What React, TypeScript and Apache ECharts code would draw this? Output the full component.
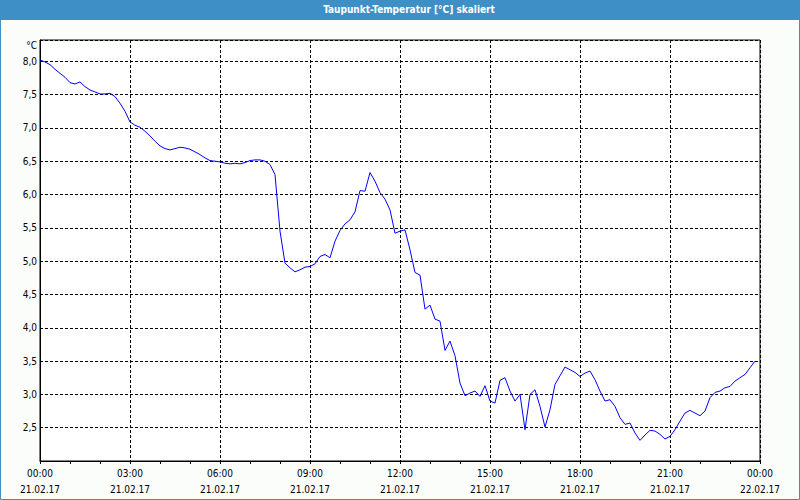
import React, { useEffect, useRef } from "react";
import * as echarts from "echarts";

const titleText = "Taupunkt-Temperatur [°C] skaliert";
const unitLabel = "°C";
const startDate = "21.02.17";
const endDate = "22.02.17";

// minutes since 00:00 on 21.02.17
const minutes = [
  0, 10, 20, 30, 50, 60, 70, 80, 90, 100, 110, 120, 130, 140, 150, 160, 170, 180, 190, 200,
  210, 220, 230, 240, 250, 260, 270, 280, 290, 300, 310, 320, 330, 340, 350, 360, 370, 380, 390, 400,
  410, 420, 430, 440, 450, 460, 470, 480, 490, 500, 510, 520, 530, 540, 550, 560, 570, 580, 590, 600,
  610, 620, 630, 640, 650, 660, 670, 680, 690, 700, 710, 720, 730, 740, 750, 760, 770, 780, 790, 800,
  810, 820, 830, 840, 850, 860, 870, 880, 890, 900, 910, 920, 930, 940, 950, 960, 970, 980, 990, 1000,
  1010, 1020, 1030, 1040, 1050, 1060, 1070, 1080, 1090, 1100, 1110, 1120, 1130, 1140, 1150, 1160, 1170, 1180, 1190, 1200,
  1210, 1220, 1230, 1240, 1250, 1260, 1270, 1280, 1290, 1300, 1310, 1320, 1330, 1340, 1350, 1360, 1370, 1380, 1390, 1400,
  1410, 1420, 1430,
];

const dewPoint = [
  8.02, 7.99, 7.95, 7.88, 7.76, 7.68, 7.66, 7.69, 7.62, 7.57, 7.54, 7.51, 7.51, 7.52, 7.47, 7.37, 7.25, 7.09, 7.04, 7.01,
  6.95, 6.88, 6.8, 6.73, 6.69, 6.67, 6.69, 6.71, 6.7, 6.68, 6.64, 6.6, 6.55, 6.51, 6.5, 6.49, 6.47, 6.46, 6.47, 6.46,
  6.48, 6.51, 6.52, 6.52, 6.5, 6.45, 6.3, 5.45, 4.97, 4.9, 4.84, 4.87, 4.91, 4.92, 4.96, 5.07, 5.1, 5.05, 5.3, 5.46,
  5.56, 5.62, 5.74, 6.06, 6.05, 6.33, 6.2, 6.03, 5.93, 5.77, 5.42, 5.45, 5.47, 5.17, 4.83, 4.79, 4.28, 4.34, 4.13, 4.1,
  3.66, 3.8, 3.58, 3.17, 2.98, 3.02, 3.05, 2.97, 3.13, 2.9, 2.87, 3.21, 3.25, 3.05, 2.9, 3.0, 2.47, 3.0, 3.07, 2.82,
  2.51, 2.77, 3.15, 3.28, 3.41, 3.37, 3.33, 3.27, 3.32, 3.35, 3.22, 3.05, 2.9, 2.92, 2.82, 2.65, 2.55, 2.57, 2.42, 2.31,
  2.39, 2.46, 2.45, 2.4, 2.33, 2.37, 2.47, 2.6, 2.72, 2.76, 2.72, 2.68, 2.75, 2.95, 3.03, 3.05, 3.1, 3.12, 3.2, 3.25,
  3.3, 3.4, 3.5,
];

const yMin = 2.0;
const yMax = 8.32;
const yStep = 0.5;
const xMaxHours = 24;
const xStepHours = 3;

const FONT = "'DejaVu Sans Condensed', 'Liberation Sans', sans-serif";

export default function App() {
  const ref = useRef<HTMLDivElement>(null);

  useEffect(() => {
    document.body.style.margin = "0";
    if (!ref.current) return;
    const chart = echarts.init(ref.current, undefined, { renderer: "svg" });
    const data = minutes.map((m, i) => [m / 60, dewPoint[i]]);
    const pad = (n: number) => (n < 10 ? "0" + n : "" + n);

    chart.setOption({
      animation: false,
      backgroundColor: "#fbfdfb",
      grid: {
        left: 40,
        right: 40,
        top: 40,
        bottom: 39,
        show: true,
        backgroundColor: "#ffffff",
        borderColor: "#000000",
        borderWidth: 1,
      },
      graphic: [
        {
          type: "rect",
          shape: { x: 0, y: 0, width: 800, height: 20 },
          style: { fill: "#3d8fc6" },
          silent: true,
        },
        {
          type: "rect",
          shape: { x: 0.5, y: 0.5, width: 799, height: 499 },
          style: { fill: "none", stroke: "#3d8fc6", lineWidth: 1 },
          silent: true,
        },
        {
          type: "text",
          x: 409,
          y: 9,
          style: {
            text: titleText,
            fill: "#ffffff",
            font: `bold 10px ${FONT}`,
            align: "center",
            verticalAlign: "middle",
          },
        },
        {
          type: "text",
          x: 37,
          y: 45,
          style: {
            text: unitLabel,
            fill: "#000000",
            font: `10px ${FONT}`,
            align: "right",
            verticalAlign: "middle",
          },
        },
      ],
      xAxis: {
        type: "value",
        min: 0,
        max: xMaxHours,
        interval: xStepHours,
        axisLine: { show: true, lineStyle: { color: "#000", width: 1 } },
        axisTick: { show: true, length: 3, lineStyle: { color: "#000" } },
        minorTick: { show: true, splitNumber: 3, length: 3, lineStyle: { color: "#000" } },
        splitLine: { show: true, lineStyle: { color: "#000", type: [3, 2], width: 1 } },
        axisLabel: {
          color: "#000",
          fontFamily: FONT,
          fontSize: 10,
          lineHeight: 16,
          margin: 4,
          formatter: (v: number) =>
            `${pad(v % 24)}:00\n${v >= 24 ? endDate : startDate}`,
        },
      },
      yAxis: {
        type: "value",
        min: yMin,
        max: yMax,
        interval: yStep,
        axisLine: { show: true, lineStyle: { color: "#000", width: 1 } },
        axisTick: { show: false },
        splitLine: { show: true, lineStyle: { color: "#000", type: [3, 2], width: 1 } },
        axisLabel: {
          color: "#000",
          fontFamily: FONT,
          fontSize: 10,
          margin: 3,
          formatter: (v: number) => {
            if (v < yMin + 0.25 || Math.abs(v * 2 - Math.round(v * 2)) > 1e-6) return "";
            return v.toFixed(1).replace(".", ",");
          },
        },
      },
      series: [
        {
          type: "line",
          data,
          symbol: "none",
          lineStyle: { color: "#0000ff", width: 1 },
          silent: true,
        },
      ],
    });

    return () => chart.dispose();
  }, []);

  return (
    <div
      ref={ref}
      style={{ position: "absolute", left: 0, top: 0, width: 800, height: 500 }}
    />
  );
}
